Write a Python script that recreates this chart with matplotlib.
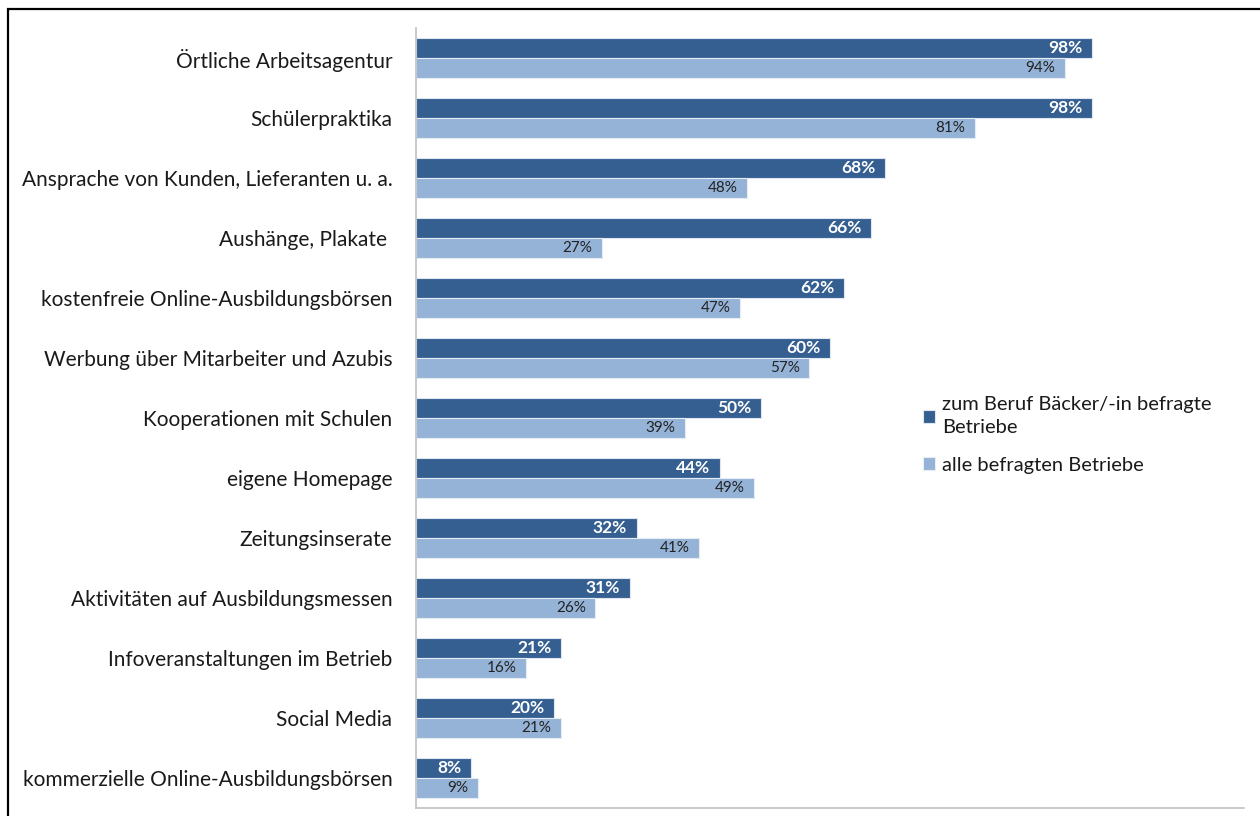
import matplotlib
matplotlib.use("Agg")
import matplotlib.pyplot as plt
from matplotlib.patches import Rectangle
import numpy as np

categories = [
    "Örtliche Arbeitsagentur",
    "Schülerpraktika",
    "Ansprache von Kunden, Lieferanten u. a.",
    "Aushänge, Plakate ",
    "kostenfreie Online-Ausbildungsbörsen",
    "Werbung über Mitarbeiter und Azubis",
    "Kooperationen mit Schulen",
    "eigene Homepage",
    "Zeitungsinserate",
    "Aktivitäten auf Ausbildungsmessen",
    "Infoveranstaltungen im Betrieb",
    "Social Media",
    "kommerzielle Online-Ausbildungsbörsen",
]
baecker = [98, 98, 68, 66, 62, 60, 50, 44, 32, 31, 21, 20, 8]
alle = [94, 81, 48, 27, 47, 57, 39, 49, 41, 26, 16, 21, 9]
series_names = ["zum Beruf Bäcker/-in befragte\nBetriebe", "alle befragten Betriebe"]

DARK = "#355F91"
LIGHT = "#95B3D7"

plt.rcParams["font.family"] = ["Lato", "DejaVu Sans"]

fig = plt.figure(figsize=(12.6, 8.16), dpi=100)
ax = fig.add_axes([416 / 1260, 1 - 808 / 816, (1244 - 416) / 1260, 780 / 816])

y = np.arange(len(categories))
h = 0.335
b1 = ax.barh(y - h / 2, baecker, height=h, color=DARK, edgecolor="#dfe6ef",
             linewidth=0.8, label=series_names[0])
b2 = ax.barh(y + h / 2, alle, height=h, color=LIGHT, edgecolor="#e6ecf4",
             linewidth=0.8, label=series_names[1])

for rect, v in zip(b1, baecker):
    ax.annotate(f"{v}%", (rect.get_width(), rect.get_y() + rect.get_height() / 2),
                xytext=(-7, 0), textcoords="offset points", ha="right", va="center",
                color="white", fontsize=12.5, fontweight="bold")
for rect, v in zip(b2, alle):
    ax.annotate(f"{v}%", (rect.get_width(), rect.get_y() + rect.get_height() / 2),
                xytext=(-7, 0), textcoords="offset points", ha="right", va="center",
                color="#222222", fontsize=11)

ax.set_xlim(0, 120)
ax.set_ylim(len(categories) - 0.5, -0.5)
ax.set_yticks(y)
ax.set_yticklabels(categories, fontsize=15, color="#1a1a1a")
ax.tick_params(axis="y", length=0, pad=17)
ax.set_xticks([])
for s in ["top", "right"]:
    ax.spines[s].set_visible(False)
ax.spines["left"].set_color("#c0c0c0")
ax.spines["bottom"].set_color("#c0c0c0")
ax.spines["left"].set_linewidth(1.2)
ax.spines["bottom"].set_linewidth(1.2)

leg = ax.legend(loc="upper left", bbox_to_anchor=(905 / 1260, 1 - 378 / 816),
                bbox_transform=fig.transFigure, frameon=False, fontsize=14.5,
                handlelength=0.6, handleheight=0.6, handletextpad=0.35,
                labelspacing=1.0)
for t in leg.get_texts():
    t.set_color("#1a1a1a")
    t.set_linespacing(1.45)

# outer frame (partly cut off at right and bottom like the source image)
fig.patches.append(Rectangle((8 / 1260, -0.05), 1.1, 1 - 9 / 816 + 0.05,
                             transform=fig.transFigure, fill=False,
                             edgecolor="black", linewidth=1.6))

fig.savefig("out.png", dpi=100)
